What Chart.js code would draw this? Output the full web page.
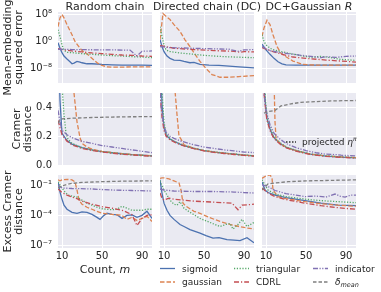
<!DOCTYPE html>
<html><head><meta charset="utf-8">
<script src="https://cdn.jsdelivr.net/npm/chart.js@4.4.0/dist/chart.umd.min.js"></script>
<style>
html,body{margin:0;padding:0;background:#fff}
body{width:381px;height:292px;overflow:hidden;position:relative;font-family:"DejaVu Sans",sans-serif;color:#262626}
canvas{position:absolute}
svg{position:absolute;left:0;top:0;pointer-events:none}
</style></head><body>
<script>
// ---------- DATA (m = count; rows 1 and 3 store log10 of the value) ----------
const X_TICKS = [10, 50, 90];
const SERIES = ['sigmoid', 'gaussian', 'triangular', 'CDRL', 'indicator', 'delta'];
const SERIES_LABELS = ['sigmoid', 'gaussian', 'triangular', 'CDRL', 'indicator', 'δ_mean'];
const COLUMN_TITLES = ['Random chain', 'Directed chain (DC)', 'DC+Gaussian R'];
const ROW_LABELS = [['Mean-embedding', 'squared error'], ['Cramer', 'distance'], ['Excess Cramer', 'distance']];
const Y_TICKS_MMD = [1e-8, 1, 1e8];
const Y_TICKS_CRAMER = [0, 0.2, 0.4];
const Y_TICKS_EXCESS = [1e-7, 1e-4, 1e-1];

// Row 1: mean-embedding squared error (log10)
const mmdRandom_sigmoid = [[6,-0.4],[8,-2],[10,-3.3],[12,-4.3],[15,-5.2],[18,-6.0],[20,-6.6],[22,-6.4],[25,-5.9],[28,-6.1],[30,-6.3],[35,-6.6],[40,-6.6],[50,-6.8],[60,-6.9],[70,-7.0],[80,-7.0],[90,-7.0],[100,-7.1]];
const mmdRandom_gaussian = [[6,4.4],[8,7],[10,8],[12,7],[15,5],[20,2],[23,0],[28,-2],[32,-3.2],[36,-3.9],[42,-5.5],[46,-6.5],[50,-7.1],[55,-7.5],[60,-7.6],[70,-7.6],[80,-7.5],[90,-7.5],[100,-7.5]];
const mmdRandom_triangular = [[6,3.5],[8,1.5],[10,-1],[12,-2.6],[15,-3.2],[20,-3.3],[30,-3.6],[40,-3.8],[50,-4.0],[60,-4.2],[70,-4.3],[80,-4.5],[90,-4.6],[100,-4.8]];
const mmdRandom_CDRL = [[6,-2.1],[10,-2.4],[20,-2.8],[30,-3.1],[40,-3.4],[50,-3.6],[60,-3.8],[70,-4.0],[80,-4.1],[90,-4.3],[100,-4.4]];
const mmdRandom_indicator = [[6,-2.3],[10,-2.3],[20,-2.4],[40,-2.45],[60,-2.5],[78,-2.55],[85,-4.3],[90,-2.9],[100,-2.8]];

const mmdDC_sigmoid = [[6,0.6],[8,-1.5],[10,-3],[13,-4.3],[16,-5],[20,-5.5],[26,-5.6],[30,-5.9],[36,-6.3],[40,-6.2],[46,-6.8],[55,-7.0],[65,-7.1],[75,-7.3],[85,-7.5],[100,-7.8]];
const mmdDC_gaussian = [[6,0.6],[9,8.3],[12,7.5],[16,6.5],[20,5],[26,3],[31,0.5],[36,-1.5],[41,-3.8],[46,-5.9],[52,-8],[58,-9.8],[66,-10.6],[75,-10.6],[85,-10.4],[100,-10.1]];
const mmdDC_triangular = [[6,4.4],[8,1.5],[10,-1],[12,-2.5],[16,-3],[26,-3.4],[40,-3.8],[50,-4.1],[60,-4.3],[70,-4.5],[80,-4.6],[90,-4.7],[100,-4.8]];
const mmdDC_CDRL = [[6,-1.2],[20,-2.0],[40,-2.4],[60,-2.7],[80,-2.9],[86,-3.2],[90,-3.0],[100,-3.1]];
const mmdDC_indicator = [[6,-1.5],[15,-1.8],[26,-1.9],[50,-2.1],[75,-2.3],[84,-2.9],[90,-2.5],[100,-2.4]];

const mmdDCG_sigmoid = [[6,-0.8],[10,-2.5],[14,-3.8],[18,-5],[22,-6],[26,-6.6],[30,-6.9],[40,-7.0],[60,-7.0],[80,-7.0],[100,-7.0]];
const mmdDCG_gaussian = [[6,1.5],[8,4],[11,6.3],[14,5],[17,2],[21,-1.5],[25,-3.5],[30,-4.5],[37,-5.8],[47,-6.8],[60,-7.0],[100,-7.0]];
const mmdDCG_triangular = [[6,2],[8,0],[10,-1],[14,-2],[17,-2.4],[25,-3.0],[35,-3.6],[45,-4.2],[55,-4.7],[65,-4.4],[75,-4.8],[85,-5.3],[100,-5.6]];
const mmdDCG_CDRL = [[6,-1.8],[15,-2.8],[25,-3.7],[37,-4.6],[50,-5.0],[70,-5.5],[85,-5.8],[100,-6.1]];
const mmdDCG_indicator = [[6,-1.5],[10,-2.2],[15,-2.8],[25,-3.3],[35,-3.7],[45,-4.1],[55,-4.4],[65,-4.8],[70,-4.5],[80,-4.7],[90,-4.4],[100,-4.3]];

// Row 2: Cramer distance (linear)
const cramerRandom_sigmoid = [[6,0.9],[8,0.45],[10,0.22],[15,0.17],[20,0.145],[30,0.12],[40,0.105],[50,0.093],[60,0.085],[70,0.078],[80,0.072],[90,0.068],[100,0.064]];
const cramerRandom_gaussian = [[6,0.55],[8,0.7],[10,1.0],[15,1.2],[20,0.8],[22,0.5],[25,0.3],[28,0.19],[30,0.15],[35,0.125],[40,0.11],[50,0.095],[60,0.086],[70,0.079],[80,0.073],[90,0.068],[100,0.064]];
const cramerRandom_triangular = [[6,1.0],[10,0.55],[12,0.35],[14,0.22],[16,0.18],[20,0.15],[30,0.12],[40,0.105],[50,0.093],[60,0.085],[70,0.078],[80,0.072],[90,0.067],[100,0.063]];
const cramerRandom_CDRL = [[6,0.31],[8,0.26],[10,0.21],[15,0.165],[20,0.14],[30,0.115],[40,0.1],[50,0.09],[60,0.082],[70,0.075],[80,0.07],[90,0.065],[100,0.061]];
const cramerRandom_indicator = [[6,0.38],[8,0.3],[10,0.24],[15,0.21],[20,0.19],[30,0.165],[40,0.15],[50,0.135],[60,0.125],[70,0.115],[80,0.105],[90,0.095],[100,0.086]];
const cramerRandom_delta = [[6,0.29],[8,0.31],[10,0.32],[20,0.325],[40,0.33],[60,0.333],[80,0.335],[100,0.336]];

const cramerDC_sigmoid = [[6,0.9],[8,0.42],[10,0.26],[12,0.21],[16,0.18],[20,0.165],[26,0.145],[30,0.135],[40,0.115],[50,0.1],[60,0.09],[70,0.082],[80,0.075],[90,0.069],[100,0.063]];
const cramerDC_gaussian = [[6,0.6],[8,0.9],[10,1.0],[15,0.9],[20,0.6],[23,0.35],[25,0.2],[27,0.18],[30,0.14],[40,0.116],[50,0.1],[60,0.09],[70,0.082],[80,0.075],[90,0.069],[100,0.063]];
const cramerDC_triangular = [[6,1.0],[8,0.5],[10,0.3],[12,0.22],[16,0.185],[20,0.165],[26,0.147],[30,0.137],[40,0.117],[50,0.101],[60,0.091],[70,0.083],[80,0.076],[90,0.07],[100,0.064]];
const cramerDC_CDRL = [[6,0.5],[8,0.33],[10,0.24],[12,0.2],[16,0.175],[20,0.16],[26,0.142],[30,0.132],[40,0.113],[50,0.098],[60,0.088],[70,0.08],[80,0.073],[90,0.067],[100,0.061]];
const cramerDC_indicator = [[6,0.5],[8,0.35],[10,0.27],[12,0.23],[16,0.2],[20,0.185],[26,0.168],[30,0.16],[40,0.14],[50,0.125],[60,0.115],[70,0.105],[80,0.098],[90,0.09],[100,0.086]];

const cramerDCG_sigmoid = [[6,0.9],[8,0.55],[10,0.38],[11,0.32],[14,0.25],[17,0.2],[20,0.175],[25,0.145],[31,0.12],[40,0.1],[54,0.075],[70,0.062],[85,0.055],[100,0.05]];
const cramerDCG_gaussian = [[6,0.6],[10,0.9],[15,0.8],[18,0.6],[19,0.3],[20,0.19],[22,0.165],[25,0.145],[31,0.12],[40,0.1],[54,0.076],[70,0.063],[85,0.056],[100,0.051]];
const cramerDCG_triangular = [[6,1.0],[8,0.6],[10,0.4],[12,0.3],[14,0.26],[17,0.21],[20,0.18],[25,0.15],[31,0.123],[40,0.102],[54,0.077],[70,0.064],[85,0.056],[100,0.051]];
const cramerDCG_CDRL = [[6,0.85],[8,0.5],[10,0.36],[11,0.31],[14,0.24],[17,0.195],[20,0.17],[25,0.14],[31,0.117],[40,0.097],[54,0.073],[70,0.06],[85,0.053],[100,0.048]];
const cramerDCG_indicator = [[6,0.8],[8,0.5],[10,0.38],[14,0.28],[18,0.22],[21,0.2],[24,0.18],[30,0.15],[40,0.12],[50,0.1],[60,0.085],[70,0.075],[80,0.072],[85,0.068],[100,0.063]];
const cramerDCG_delta = [[8,0.36],[12,0.37],[19,0.38],[25,0.41],[35,0.425],[45,0.435],[60,0.44],[75,0.445],[100,0.448]];

// Row 3: excess Cramer distance (log10)
const excessRandom_sigmoid = [[6,-0.7],[8,-1.7],[10,-2.4],[12,-3.0],[15,-3.4],[20,-3.7],[25,-3.8],[30,-3.65],[35,-3.7],[40,-3.9],[45,-4.2],[48,-4.4],[52,-4.0],[55,-3.8],[60,-3.9],[65,-3.95],[70,-4.3],[75,-4.0],[80,-3.95],[85,-4.2],[90,-4.0],[95,-3.6],[100,-4.3]];
const excessRandom_gaussian = [[6,-0.5],[8,-0.6],[10,-0.5],[15,-0.45],[20,-0.5],[23,-0.7],[25,-1.5],[27,-2.5],[30,-2.9],[35,-3.2],[40,-3.4],[50,-3.8],[60,-3.9],[70,-4.0],[75,-4.4],[80,-4.2],[85,-4.5],[90,-4.3],[95,-4.1],[100,-4.6]];
const excessRandom_triangular = [[6,-0.7],[8,-1.0],[10,-1.3],[13,-1.7],[16,-2.0],[20,-2.1],[25,-2.2],[30,-2.5],[35,-2.8],[40,-3.0],[45,-3.2],[50,-3.35],[55,-3.4],[60,-3.45],[65,-3.4],[70,-3.1],[75,-3.3],[80,-3.5],[85,-3.5],[90,-3.5],[95,-3.4],[100,-3.4]];
const excessRandom_CDRL = [[6,-1.4],[10,-1.75],[15,-2.0],[20,-2.2],[25,-2.35],[30,-2.6],[40,-2.9],[50,-3.15],[60,-3.3],[70,-3.5],[75,-3.7],[80,-3.95],[85,-5.0],[90,-4.3],[95,-4.0],[100,-3.95]];
const excessRandom_indicator = [[6,-1.0],[10,-1.3],[20,-1.35],[40,-1.4],[60,-1.5],[80,-1.55],[100,-1.6]];
const excessRandom_delta = [[6,-1.3],[10,-1.1],[15,-0.95],[20,-0.85],[30,-0.75],[50,-0.68],[70,-0.63],[100,-0.6]];

const excessDC_sigmoid = [[6,-0.5],[8,-1.8],[10,-2.8],[13,-3.5],[16,-4.0],[20,-4.4],[26,-4.9],[30,-5.1],[36,-5.4],[46,-5.75],[52,-6.0],[59,-6.25],[65,-6.2],[73,-6.4],[80,-6.45],[86,-6.5],[93,-6.2],[100,-6.7]];
const excessDC_gaussian = [[6,-0.35],[8,-0.3],[10,-0.3],[15,-0.4],[20,-0.6],[25,-0.8],[27,-1.5],[29,-2.8],[32,-3.1],[40,-3.6],[46,-3.8],[55,-4.2],[66,-4.6],[76,-4.9],[85,-5.1],[93,-5.25],[100,-5.35]];
const excessDC_triangular = [[6,-0.6],[10,-1.5],[13,-2.0],[16,-2.5],[20,-2.9],[23,-3.0],[26,-2.65],[30,-3.3],[36,-3.7],[46,-4.3],[56,-4.7],[66,-5.1],[72,-4.9],[76,-4.8],[79,-5.35],[84,-4.9],[88,-4.4],[93,-5.1],[100,-4.7]];
const excessDC_CDRL = [[6,-1.8],[8,-2.3],[10,-2.5],[15,-2.3],[20,-2.4],[30,-2.5],[40,-2.6],[50,-2.65],[60,-2.7],[70,-2.75],[78,-2.8],[84,-3.45],[88,-3.0],[100,-2.9]];
const excessDC_indicator = [[6,-1.4],[10,-1.5],[20,-1.6],[40,-1.65],[60,-1.65],[80,-1.7],[90,-1.75],[100,-1.8]];

const excessDCG_sigmoid = [[6,-0.7],[9,-1.5],[12,-1.75],[19,-2.0],[30,-2.25],[49,-2.55],[65,-2.8],[82,-3.0],[100,-3.05]];
const excessDCG_gaussian = [[6,-0.35],[10,-0.1],[14,0],[16,-0.3],[17,-1.5],[22,-2.15],[30,-2.35],[49,-2.65],[65,-2.85],[82,-3.0],[100,-3.1]];
const excessDCG_triangular = [[6,-0.5],[9,-1.0],[12,-1.5],[19,-1.9],[30,-2.15],[49,-2.4],[65,-2.55],[82,-2.65],[100,-2.75]];
const excessDCG_CDRL = [[6,-1.3],[12,-1.8],[19,-2.15],[30,-2.45],[49,-2.8],[65,-3.05],[82,-3.25],[100,-3.4]];
const excessDCG_indicator = [[6,-1.0],[12,-1.15],[19,-1.55],[30,-1.85],[49,-2.15],[60,-2.1],[70,-2.2],[79,-1.9],[84,-2.1],[89,-2.2],[95,-2.0],[100,-2.0]];
const excessDCG_delta = [[6,-1.5],[12,-0.9],[20,-0.8],[32,-0.68],[50,-0.6],[75,-0.55],[100,-0.5]];

// ---------- STYLE / LAYOUT ----------
const FONT = "'DejaVu Sans', sans-serif";
const TEXT = '#262626';
const COLORS = {sigmoid:'#4C72B0', gaussian:'#DD8452', triangular:'#55A868', CDRL:'#C44E52', indicator:'#8172B3', delta:'#7F7F7F'};
const DASH = {sigmoid:[], gaussian:[4.5,2], triangular:[1.2,1.6], CDRL:[5,2,1.2,2], indicator:[5,1.5,1.2,1.5,1.2,1.5], delta:[3.5,2]};
const COLS = [58, 160, 262], PW = 94;
const ROWS = [12, 93, 175], PH = [71, 72, 73];
const PAD = 8;
const Y_RANGE = [[Math.pow(10,-12.3), Math.pow(10,8.74)], [0, 0.5], [Math.pow(10,-7.2), Math.pow(10,-0.02)]];

const panels = [
  {row:0,col:0,data:{sigmoid:mmdRandom_sigmoid,gaussian:mmdRandom_gaussian,triangular:mmdRandom_triangular,CDRL:mmdRandom_CDRL,indicator:mmdRandom_indicator}},
  {row:0,col:1,data:{sigmoid:mmdDC_sigmoid,gaussian:mmdDC_gaussian,triangular:mmdDC_triangular,CDRL:mmdDC_CDRL,indicator:mmdDC_indicator}},
  {row:0,col:2,data:{sigmoid:mmdDCG_sigmoid,gaussian:mmdDCG_gaussian,triangular:mmdDCG_triangular,CDRL:mmdDCG_CDRL,indicator:mmdDCG_indicator}},
  {row:1,col:0,data:{sigmoid:cramerRandom_sigmoid,gaussian:cramerRandom_gaussian,triangular:cramerRandom_triangular,CDRL:cramerRandom_CDRL,indicator:cramerRandom_indicator,delta:cramerRandom_delta}},
  {row:1,col:1,data:{sigmoid:cramerDC_sigmoid,gaussian:cramerDC_gaussian,triangular:cramerDC_triangular,CDRL:cramerDC_CDRL,indicator:cramerDC_indicator}},
  {row:1,col:2,data:{sigmoid:cramerDCG_sigmoid,gaussian:cramerDCG_gaussian,triangular:cramerDCG_triangular,CDRL:cramerDCG_CDRL,indicator:cramerDCG_indicator,delta:cramerDCG_delta}},
  {row:2,col:0,data:{sigmoid:excessRandom_sigmoid,gaussian:excessRandom_gaussian,triangular:excessRandom_triangular,CDRL:excessRandom_CDRL,indicator:excessRandom_indicator,delta:excessRandom_delta}},
  {row:2,col:1,data:{sigmoid:excessDC_sigmoid,gaussian:excessDC_gaussian,triangular:excessDC_triangular,CDRL:excessDC_CDRL,indicator:excessDC_indicator}},
  {row:2,col:2,data:{sigmoid:excessDCG_sigmoid,gaussian:excessDCG_gaussian,triangular:excessDCG_triangular,CDRL:excessDCG_CDRL,indicator:excessDCG_indicator,delta:excessDCG_delta}}
];

const SUP = {'0':'⁰','1':'¹','2':'²','3':'³','4':'⁴','5':'⁵','6':'⁶','7':'⁷','8':'⁸','9':'⁹','-':'⁻'};
function powLabel(v){ const e = Math.round(Math.log10(v)); return '10' + String(e).split('').map(ch => SUP[ch]).join(''); }
function noPad(s){ s.paddingTop = 0; s.paddingBottom = 0; s.paddingLeft = 0; s.paddingRight = 0; }

const bgPlugin = {id:'panelBg', beforeDraw(chart){ const a = chart.chartArea, ctx = chart.ctx; ctx.save(); ctx.fillStyle = '#EAEAF2'; ctx.fillRect(a.left, a.top, a.right - a.left, a.bottom - a.top); ctx.restore(); }};

function makeChart(p){
  const r = p.row, c = p.col;
  const YW = c === 0 ? 58 : 10;
  const XH = r === 2 ? 20 : 0;
  const padBottom = r === 2 ? 0 : PAD;
  const w = YW + PW, h = PAD + PH[r] + XH + padBottom;
  const cv = document.createElement('canvas');
  cv.width = w; cv.height = h;
  cv.style.left = (COLS[c] - YW) + 'px'; cv.style.top = (ROWS[r] - PAD) + 'px';
  cv.style.width = w + 'px'; cv.style.height = h + 'px';
  document.body.appendChild(cv);
  const isLog = r !== 1;
  const yTicks = r === 0 ? Y_TICKS_MMD : (r === 1 ? Y_TICKS_CRAMER : Y_TICKS_EXCESS);
  const datasets = SERIES.slice().reverse().filter(k => p.data[k]).map(k => ({
    label: SERIES_LABELS[SERIES.indexOf(k)],
    data: p.data[k].map(([m, v]) => ({x: m, y: isLog ? Math.pow(10, v) : v})),
    borderColor: COLORS[k], borderWidth: 1.3, borderDash: DASH[k],
    pointRadius: 0, fill: false, tension: 0
  }));
  new Chart(cv, {
    type: 'line',
    data: {datasets},
    plugins: [bgPlugin],
    options: {
      responsive: false, animation: false, devicePixelRatio: 1,
      layout: {padding: {top: PAD, bottom: padBottom, left: 0, right: 0}},
      plugins: {legend: {display: false}, tooltip: {enabled: false}, title: {display: false}},
      scales: {
        x: {
          type: 'linear', min: 6, max: 100,
          afterBuildTicks: s => { s.ticks = X_TICKS.map(v => ({value: v})); },
          afterFit: s => { s.height = XH; noPad(s); },
          grid: {color: '#ffffff', lineWidth: 1, drawTicks: false},
          border: {display: false},
          ticks: {display: r === 2, padding: 2, maxRotation: 0, autoSkip: false, color: TEXT, font: {family: FONT, size: 10}, callback: v => String(v)}
        },
        y: {
          type: isLog ? 'logarithmic' : 'linear', min: Y_RANGE[r][0], max: Y_RANGE[r][1],
          afterBuildTicks: s => { s.ticks = yTicks.map(v => ({value: v})); },
          afterFit: s => { s.width = YW; noPad(s); },
          grid: {color: '#ffffff', lineWidth: 1, drawTicks: false},
          border: {display: false},
          ticks: {display: c === 0, padding: 6, autoSkip: false, color: TEXT, font: {family: FONT, size: 10},
                  callback: v => isLog ? powLabel(v) : Number(v).toFixed(1)}
        }
      }
    }
  });
}
panels.forEach(makeChart);

// ---------- TEXT & LEGEND OVERLAY ----------
const NS = 'http://www.w3.org/2000/svg';
const svg = document.createElementNS(NS, 'svg');
svg.setAttribute('width', 381); svg.setAttribute('height', 292);
svg.setAttribute('font-family', "DejaVu Sans, sans-serif");
svg.setAttribute('fill', TEXT);
document.body.appendChild(svg);
function el(tag, attrs, parent){ const e = document.createElementNS(NS, tag); for (const k in attrs) e.setAttribute(k, attrs[k]); (parent || svg).appendChild(e); return e; }
function txt(x, y, size, parts, extra){
  const t = el('text', Object.assign({x, y, 'font-size': size}, extra || {}));
  parts.forEach(pt => { const s = el('tspan', pt.attrs || {}, t); s.textContent = pt.t; });
  return t;
}
// column titles
[[105, [{t:'Random chain'}]], [207, [{t:'Directed chain (DC)'}]], [309, [{t:'DC+Gaussian '}, {t:'R', attrs:{'font-style':'italic'}}]]]
  .forEach(([x, parts]) => txt(x, 9.5, 11, parts, {'text-anchor':'middle'}));
// row labels (rotated)
const rowLabelX = [[10.5, 22], [19.5, 31], [10.5, 22]];
ROW_LABELS.forEach((lines, r) => {
  const cy = ROWS[r] + PH[r] / 2;
  lines.forEach((line, i) => {
    const bx = rowLabelX[r][i];
    txt(bx, cy, 11, [{t: line}], {'text-anchor':'middle', transform:`rotate(-90 ${bx} ${cy})`});
  });
});
// x axis label
txt(105, 272.5, 11, [{t:'Count, '}, {t:'m', attrs:{'font-style':'italic'}}], {'text-anchor':'middle'});
// legend (3 columns x 2 rows, column-major)
const legendCols = [160, 234, 313], legendRows = [268.5, 282];
SERIES.forEach((k, i) => {
  const col = Math.floor(i / 2), row = i % 2;
  const x0 = legendCols[col], y0 = legendRows[row];
  el('line', {x1: x0, x2: x0 + 15, y1: y0, y2: y0, stroke: COLORS[k], 'stroke-width': 1.3, 'stroke-dasharray': DASH[k].length ? DASH[k].join(' ') : 'none'});
  if (k === 'delta') {
    txt(x0 + 22, y0 + 3, 9, [{t:'δ', attrs:{'font-style':'italic'}}, {t:'mean', attrs:{'font-style':'italic', 'font-size':6.5, dy: 2}}]);
  } else {
    txt(x0 + 22, y0 + 3, 9, [{t: SERIES_LABELS[i]}]);
  }
});
// annotation in the Cramer / DC+Gaussian panel
el('line', {x1: 286, x2: 296, y1: 142, y2: 142, stroke: '#333', 'stroke-width': 1.4, 'stroke-dasharray': '1.5 1.5'});
txt(302, 145, 9, [{t:'projected '}, {t:'η', attrs:{'font-style':'italic'}}, {t:'π', attrs:{'font-style':'italic', 'font-size':6, dy:-4}}]);
</script>
</body></html>
